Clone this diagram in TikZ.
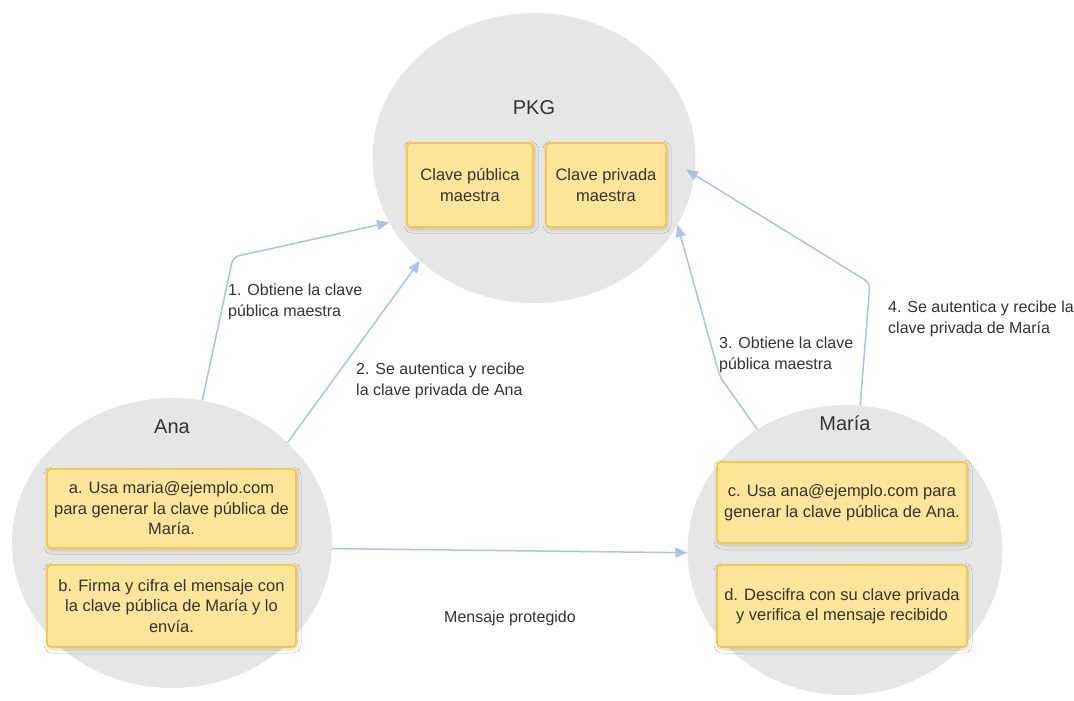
\documentclass[tikz,border=0pt]{standalone}
\usepackage{fontspec}
\setmainfont{Liberation Sans}
\usetikzlibrary{shapes.geometric,arrows.meta,shadows.blur}
\definecolor{zonegray}{HTML}{E6E6E6}
\definecolor{notefill}{HTML}{FFE599}
\definecolor{noteline}{HTML}{F7C843}
\definecolor{linkblue}{HTML}{A9C4EB}
\definecolor{ink}{HTML}{333333}
\begin{document}
\begin{tikzpicture}[x=1pt,y=-1pt,
  zone/.style={ellipse, fill=zonegray, draw=none, inner sep=0pt},
  title/.style={font=\fontsize{20}{24}\selectfont, text=ink, inner sep=0pt},
  note/.style={rectangle, rounded corners=4pt, fill=notefill, draw=noteline,
    line width=1.8pt, align=center, text=ink, inner sep=0pt,
    font=\fontsize{16.5}{20.5}\selectfont,
    blur shadow={shadow xshift=1pt, shadow yshift=-2pt,
      shadow blur steps=8, shadow blur radius=4pt, shadow opacity=18}},
  flow/.style={draw=linkblue, line width=1.5pt, rounded corners=6pt,
    -{Triangle[length=12pt,width=10pt]}},
  tag/.style={font=\fontsize{16}{20.5}\selectfont, text=ink, align=left,
    inner sep=0pt}
]
\fill[white] (0,0) rectangle (1074,701);
\useasboundingbox (0,0) rectangle (1074,701);

% the three parties
\node[zone, minimum width=323pt, minimum height=290pt] (pkg) at (534,158) {};
\node[zone, minimum width=320pt, minimum height=290pt] (ana) at (172,543) {};
\node[zone, minimum width=315pt, minimum height=290pt] (maria) at (845,550) {};

\node[title] (pkgT) at (534,108) {PKG};
\node[title] (anaT) at (172,427) {Ana};
\node[title] (mariaT) at (845,423) {María};

% keys held by the PKG
\node[note, minimum width=126pt, minimum height=84pt] (mpk) at (470,185)
  {Clave pública\\maestra};
\node[note, minimum width=120pt, minimum height=84pt] (msk) at (606,185)
  {Clave privada\\maestra};

% steps at Ana's side
\node[note, minimum width=249pt, minimum height=79pt] (sa) at (171.5,508.5)
  {a. Usa maria@ejemplo.com\\para generar la clave pública de\\María.};
\node[note, minimum width=249pt, minimum height=82pt] (sb) at (171.5,606)
  {b. Firma y cifra el mensaje con\\la clave pública de María y lo\\envía.};

% steps at María's side
\node[note, minimum width=250pt, minimum height=81pt] (sc) at (842,502.5)
  {c. Usa ana@ejemplo.com para\\generar la clave pública de Ana.};
\node[note, minimum width=250pt, minimum height=82pt] (sd) at (842,606)
  {d. Descifra con su clave privada\\y verifica el mensaje recibido};

% bend points of the elbow connectors
\coordinate (b1) at (233,257);
\coordinate (b3) at (720,377);
\coordinate (b4) at (870,283);

% connectors
\draw[flow] (ana.78) -- (b1) -- (pkg.204);
\draw[flow] (ana.41.5) -- (pkg.222.6);
\draw[flow] (maria.126) -- (b3) -- (pkg.335);
\draw[flow, shorten >=-10pt] (maria.84) -- (b4) -- (pkg.354);
\draw[flow] (ana.-2) -- (maria.181);

% connector labels
\node[tag, anchor=west] (l1) at (228,302) {1. Obtiene la clave\\pública maestra};
\node[tag, anchor=west] (l2) at (356,381) {2. Se autentica y recibe\\la clave privada de Ana};
\node[tag, anchor=west] (l3) at (719,355) {3. Obtiene la clave\\pública maestra};
\node[tag, anchor=west] (l4) at (888,319) {4. Se autentica y recibe la\\clave privada de María};
\node[tag] (l5) at (510,618) {Mensaje protegido};
\end{tikzpicture}
\end{document}
